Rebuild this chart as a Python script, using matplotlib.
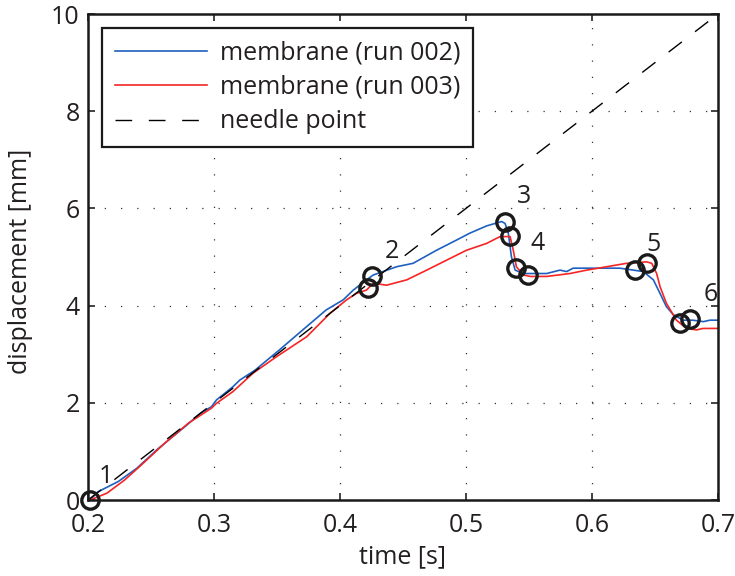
import matplotlib
matplotlib.use("Agg")
import matplotlib.pyplot as plt

plt.rcParams['font.family'] = ['Open Sans', 'DejaVu Sans']

# run 002 (blue)
t_002 = [0.2015, 0.208, 0.224, 0.2386, 0.2558, 0.277, 0.289, 0.298, 0.302, 0.315, 0.3206,
         0.3325, 0.352, 0.3736, 0.389, 0.4026, 0.4106, 0.421, 0.4264, 0.445, 0.458, 0.4767,
         0.4926, 0.503, 0.5164, 0.5283, 0.531, 0.5336, 0.536, 0.539, 0.5455, 0.564, 0.5746,
         0.5799, 0.585, 0.601, 0.622, 0.633, 0.6407, 0.6487, 0.654, 0.659, 0.6646, 0.6725,
         0.680, 0.6884, 0.6937, 0.700]
d_002 = [0.0, 0.17, 0.38, 0.65, 1.06, 1.51, 1.78, 1.92, 2.06, 2.33, 2.47,
         2.67, 3.09, 3.57, 3.91, 4.12, 4.32, 4.53, 4.63, 4.80, 4.87, 5.14,
         5.35, 5.49, 5.64, 5.73, 5.69, 5.49, 5.01, 4.73, 4.66, 4.66, 4.73,
         4.70, 4.77, 4.77, 4.77, 4.73, 4.70, 4.53, 4.25, 3.98, 3.81, 3.70,
         3.70, 3.67, 3.70, 3.70]

# run 003 (red)
t_003 = [0.2015, 0.215, 0.229, 0.241, 0.261, 0.2796, 0.298, 0.302, 0.315, 0.331, 0.3497,
         0.3736, 0.392, 0.4053, 0.413, 0.421, 0.4264, 0.437, 0.453, 0.4688, 0.4873, 0.5005,
         0.5164, 0.527, 0.535, 0.5375, 0.540, 0.5455, 0.551, 0.564, 0.5825, 0.5958, 0.6117,
         0.6275, 0.6434, 0.6474, 0.6513, 0.654, 0.659, 0.667, 0.675, 0.683, 0.688, 0.700]
d_003 = [0.0, 0.14, 0.41, 0.69, 1.17, 1.58, 1.89, 1.99, 2.23, 2.61, 2.95,
         3.36, 3.84, 4.12, 4.25, 4.32, 4.46, 4.42, 4.53, 4.73, 4.97, 5.14,
         5.28, 5.42, 5.42, 5.14, 4.80, 4.63, 4.60, 4.60, 4.66, 4.73, 4.80,
         4.87, 4.90, 4.87, 4.66, 4.39, 4.05, 3.70, 3.53, 3.50, 3.53, 3.53]

# needle point
t_needle = [0.2, 0.7]
d_needle = [0.0, 10.0]

# event markers
event_t = [0.2015, 0.4252, 0.4225, 0.531, 0.535, 0.540, 0.549, 0.634, 0.644, 0.670, 0.678]
event_d = [0.0, 4.61, 4.37, 5.73, 5.44, 4.77, 4.63, 4.73, 4.88, 3.64, 3.72]

# event labels
label_text = ["1", "2", "3", "4", "5", "6"]
label_t = [0.214, 0.441, 0.546, 0.557, 0.649, 0.694]
label_d = [0.49, 5.11, 6.24, 5.28, 5.25, 4.22]

x_ticks = [0.2, 0.3, 0.4, 0.5, 0.6, 0.7]
x_ticklabels = ["0.2", "0.3", "0.4", "0.5", "0.6", "0.7"]
y_ticks = [0, 2, 4, 6, 8, 10]
y_ticklabels = ["0", "2", "4", "6", "8", "10"]

FS = 18
txt = '#231f20'
fig = plt.figure(figsize=(7.35, 5.76), dpi=100)
ax = fig.add_axes([88/735, 76/576, 630/735, 486/576])

ax.plot(t_002, d_002, color='#1f5fc0', lw=1.2, label='membrane (run 002)')
ax.plot(t_003, d_003, color='#f52525', lw=1.2, label='membrane (run 003)')
ax.plot(t_needle, d_needle, color='black', lw=1.0, ls=(0, (12, 12)), label='needle point')
ax.plot(event_t, event_d, ls='none', marker='o', ms=12.5, mfc='none', mec='#1a1a1a', mew=2.4,
        clip_on=False, zorder=5)
for s, tx, ty in zip(label_text, label_t, label_d):
    ax.text(tx, ty, s, ha='center', va='center', fontsize=FS, color=txt)

ax.set_xlim(0.2, 0.7)
ax.set_ylim(0, 10)
ax.set_xticks(x_ticks)
ax.set_xticklabels(x_ticklabels)
ax.set_yticks(y_ticks)
ax.set_yticklabels(y_ticklabels)
ax.tick_params(direction='in', length=5, width=1.2, top=True, right=True,
               labelsize=FS, labelcolor=txt, colors='#222')
ax.tick_params(axis='x', pad=9)
ax.tick_params(axis='y', pad=6)
for sp in ax.spines.values():
    sp.set_linewidth(1.8)
    sp.set_color('#1a1a1a')
ax.grid(True, color='#333333', lw=0.9, ls=(0, (1, 12)))
ax.set_xlabel('time [s]', fontsize=FS, color=txt)
ax.set_ylabel('displacement [mm]', fontsize=FS, color=txt)
ax.xaxis.set_label_coords(0.5, -0.092)
ax.yaxis.set_label_coords(-0.087, 0.49)

leg = ax.legend(loc='upper left', bbox_to_anchor=(14/630, 1 - 14/486), borderaxespad=0,
                fontsize=FS, fancybox=False, framealpha=1, edgecolor='#1a1a1a',
                handlelength=3.7, handletextpad=0.5, labelspacing=0.38, borderpad=0.5,
                labelcolor=txt)
leg.get_frame().set_linewidth(1.6)

fig.savefig('out.png', dpi=100)
